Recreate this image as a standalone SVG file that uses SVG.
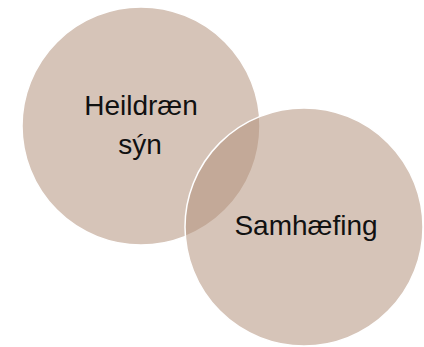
<svg xmlns="http://www.w3.org/2000/svg" width="424" height="347" viewBox="0 0 424 347">
<style>
.c{fill:#b4947e;fill-opacity:0.55;stroke:#ffffff;stroke-width:1.5}
.t{font-family:"Liberation Sans",Arial,sans-serif;font-size:28px;fill:#111111;text-anchor:middle}
</style>
<rect width="424" height="347" fill="#ffffff"/>
<g id="node-heildraen">
<circle class="c" cx="141" cy="126" r="119"/>
<text class="t" x="141" y="115">Heildræn</text>
<text class="t" x="140" y="154">sýn</text>
</g>
<g id="node-samhaefing">
<circle class="c" cx="304" cy="227" r="119"/>
<text class="t" x="306" y="235">Samhæfing</text>
</g>
<g id="connectors"></g>
</svg>
